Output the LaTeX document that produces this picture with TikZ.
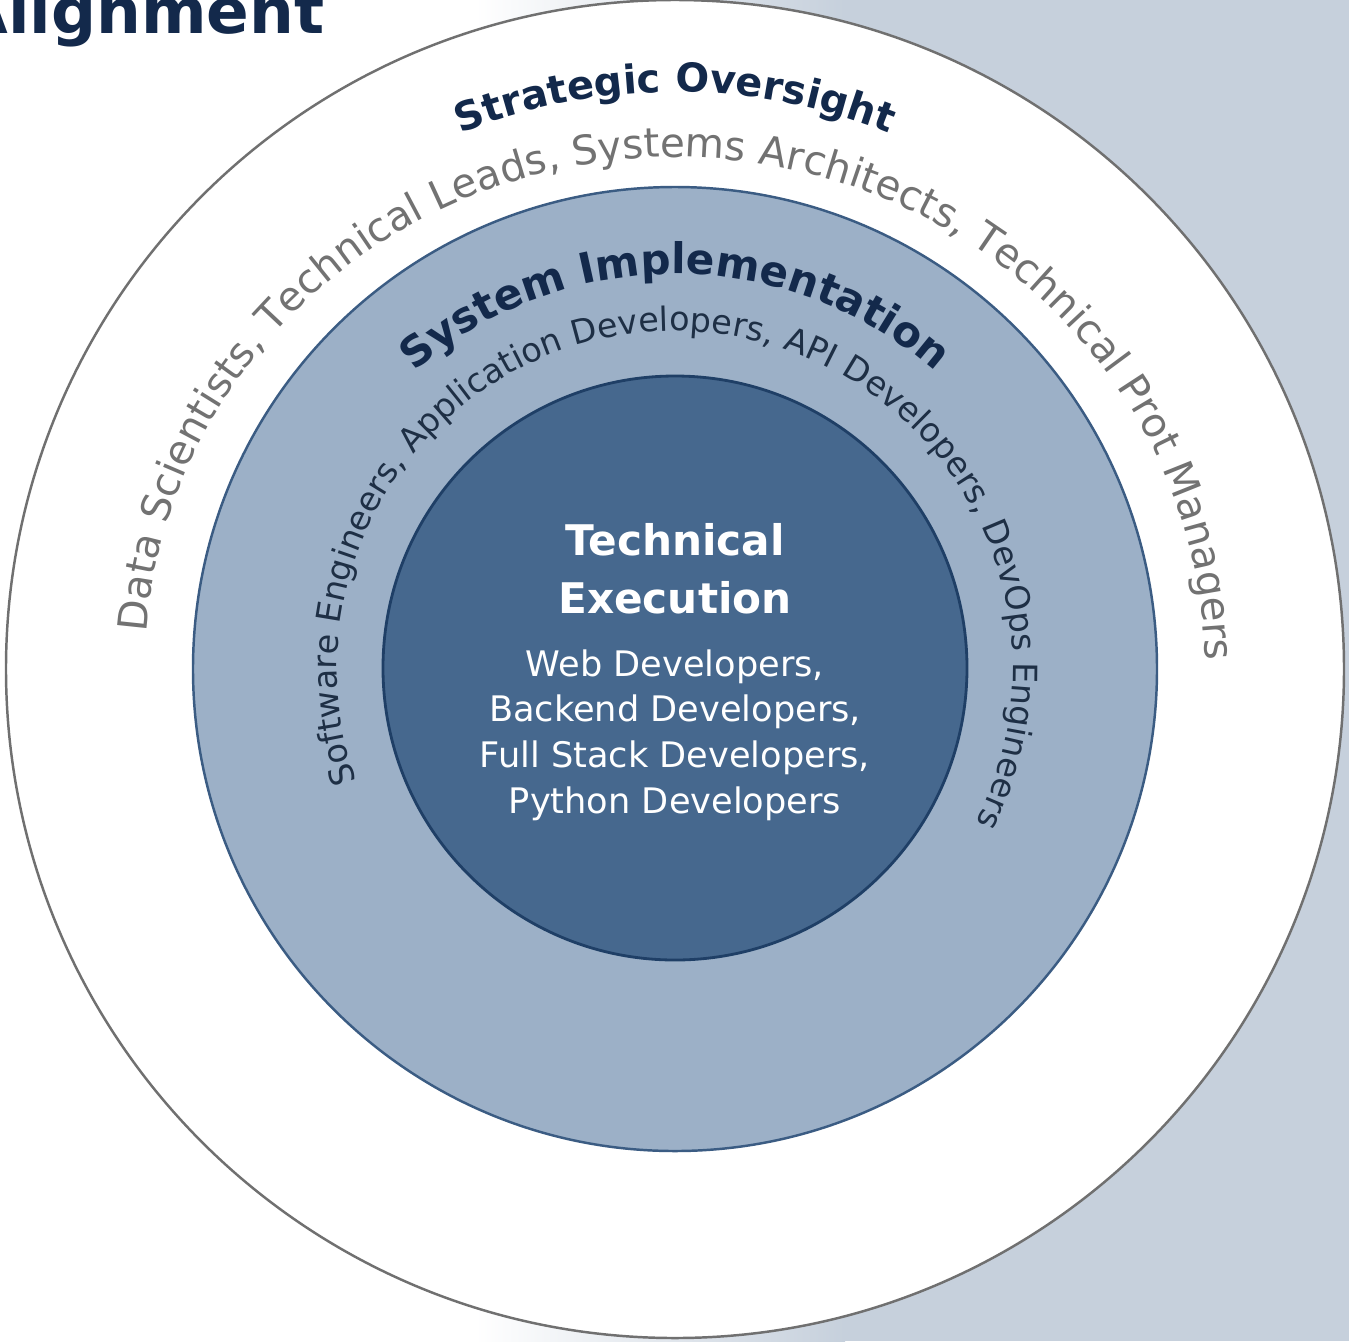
\documentclass[tikz,border=0pt]{standalone}
\usepackage{fontspec}
\setmainfont{DejaVu Sans}
\usetikzlibrary{decorations.text}

\definecolor{navy}{HTML}{13294B}
\definecolor{ringgray}{HTML}{707070}
\definecolor{rolegray}{HTML}{727272}
\definecolor{roletext}{HTML}{1E2F45}
\definecolor{midfill}{HTML}{9CB0C7}
\definecolor{midline}{HTML}{3B5C83}
\definecolor{corefill}{HTML}{46688E}
\definecolor{coreline}{HTML}{1F3F66}
\definecolor{bgblue}{HTML}{C6D0DC}

\tikzset{
  ringline/.style={line width=0.7pt},
  coretext/.style={text=white, inner sep=0pt, anchor=base},
}

\begin{document}
\begin{tikzpicture}[x=0.01cm, y=0.01cm]
  \useasboundingbox (-675,-672) rectangle (674,669);
  \clip (-675,-672) rectangle (674,669);

  % backdrop
  \fill[white] (-675,-672) rectangle (674,669);
  \shade[left color=white, right color=bgblue] (-200,-672) rectangle (170,669);
  \fill[bgblue] (170,-672) rectangle (674,669);

  \node[anchor=base east, inner sep=0pt, text=navy,
        font=\bfseries\fontsize{17.9pt}{20pt}\selectfont] (title) at (-350,636) {Alignment};

  % the three rings
  \draw[ringline, ringgray, fill=white] (0,0) circle[radius=669];
  \draw[ringline, midline, fill=midfill] (0,0) circle[radius=482];
  \draw[ringline, coreline, fill=corefill, line width=0.8pt] (0,1) circle[radius=292];

  % outer ring
  \path[decorate, decoration={text along path, text align=center, text color=navy,
      text={|\bfseries\fontsize{11.3pt}{13pt}\selectfont|Strategic Oversight}}]
    (150:577) arc[start angle=150, end angle=30, radius=577];
  \path[decorate, decoration={text along path, text align=center, text color=rolegray,
      text={|\fontsize{11.5pt}{13pt}\selectfont|Data Scientists, Technical Leads, Systems Architects, Technical Prot Managers}}]
    (-530,0) arc[start angle=180, end angle=-3.2, x radius=530, y radius=512];

  % middle ring
  \path[decorate, decoration={text along path, text align=center, text color=navy,
      text={|\bfseries\fontsize{12pt}{14pt}\selectfont|System Implementation}}]
    (150:395) arc[start angle=150, end angle=30, radius=395];
  \path[decorate, decoration={text along path, text align=center, text color=roletext,
      text={|\fontsize{9.5pt}{11pt}\selectfont|Software Engineers, Application Developers, API Developers, DevOps Engineers}}]
    (210:338) arc[start angle=210, end angle=-37.6, radius=338];

  % core
  \node[coretext, font=\bfseries\fontsize{12pt}{14pt}\selectfont] (exec1) at (0,114) {Technical};
  \node[coretext, font=\bfseries\fontsize{12pt}{14pt}\selectfont] (exec2) at (0,56) {Execution};
  \foreach \who [count=\i] in {{Web Developers,}, {Backend Developers,}, {Full Stack Developers,}, {Python Developers}}
    \node[coretext, font=\fontsize{10pt}{12pt}\selectfont] (role\i) at (0,{-7-45.7*(\i-1)}) {\who};
\end{tikzpicture}
\end{document}
